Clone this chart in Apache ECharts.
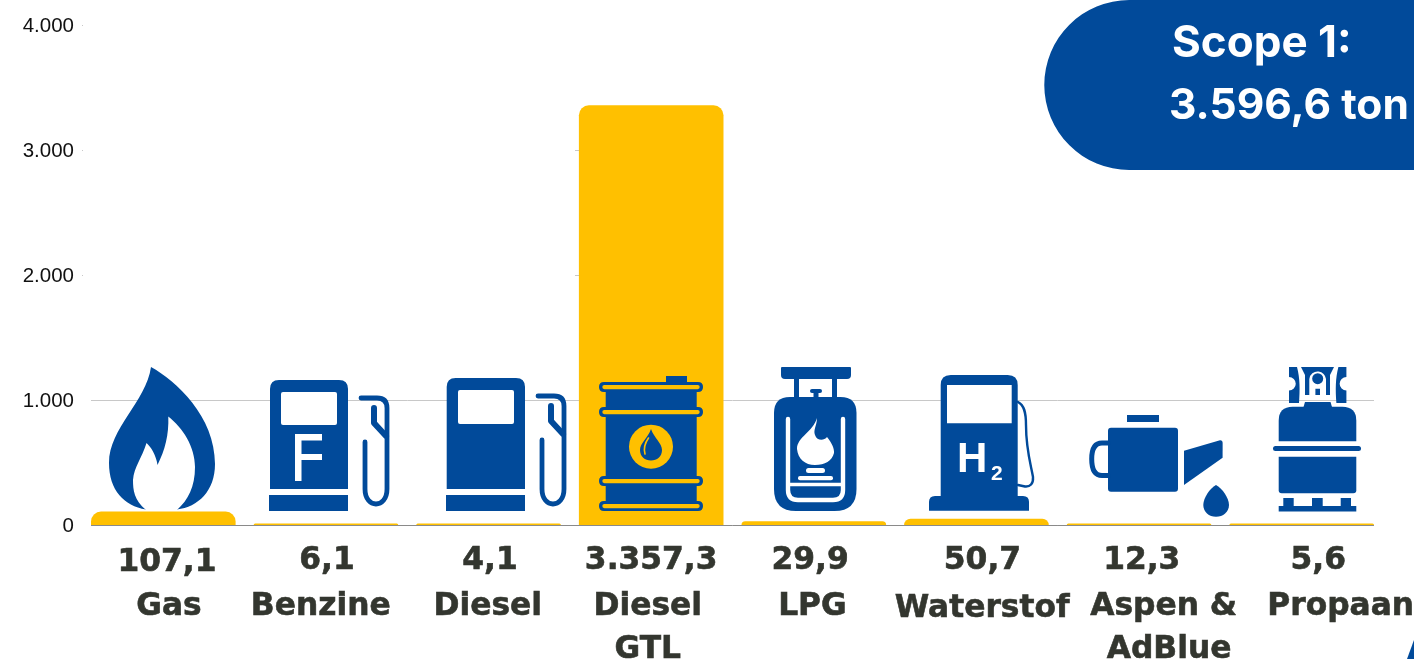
<!DOCTYPE html>
<html lang="nl">
  <head>
    <meta charset="UTF-8" />
    <title>Scope 1</title>
    <script src="https://cdn.jsdelivr.net/npm/echarts@6/dist/echarts.min.js"></script>
    <style>
      html, body { margin: 0; padding: 0; background: #fff; }
      #box { width: 1414px; height: 659px; }
    </style>
  </head>
  <body>
    <div id="box"></div>
    <script>
      // data
      var values = [107.1, 6.1, 4.1, 3357.3, 29.9, 50.7, 12.3, 5.6];
      var names = ["Gas", "Benzine", "Diesel", "Diesel", "LPG", "Waterstof", "Aspen &", "Propaan"];
      var names2 = ["", "", "", "GTL", "", "", "AdBlue", ""];
      var scopeLines = ["Scope 1:", "3.596,6 ton"];
      var yMax = 4000;
      var yStep = 1000;

      // the labels in the picture are not centred under their bars
      var valueShift = [3.7, 1, 1.5, 0, -3.7, 6, 2.7, 16.5];
      var nameShift = [5.7, -5.2, -0.8, -3.4, -1.4, 5.7, 24.6, 39];
      var name2Shift = [0, 0, 0, -3.4, 0, 0, 30, 0];

      var BLUE = "#014a9a";
      var YELLOW = "#ffc000";
      var TEXT = "#33362f";

      // dutch number format: 3.357,3
      function nl(v, decimals) {
        var s = v.toFixed(decimals).split(".");
        var whole = s[0].replace(/\B(?=(\d{3})+$)/g, ".");
        return s[1] ? whole + "," + s[1] : whole;
      }

      // rounded rect as path string, radii tl tr br bl
      function rr(x, y, w, h, a, b, c, d) {
        if (b === undefined) { b = c = d = a; }
        var r = x + w, t = y + h;
        return "M" + (x + a) + "," + y + " L" + (r - b) + "," + y + " Q" + r + "," + y + " " + r + "," + (y + b) +
          " L" + r + "," + (t - c) + " Q" + r + "," + t + " " + (r - c) + "," + t +
          " L" + (x + d) + "," + t + " Q" + x + "," + t + " " + x + "," + (t - d) +
          " L" + x + "," + (y + a) + " Q" + x + "," + y + " " + (x + a) + "," + y + " Z ";
      }

      // off canvas anchors so the path keeps page coordinates when echarts fits it
      var ANCHORS = "M-50,-50 L-50,-50 M1464,709 L1464,709 ";
      function shape(d, style) {
        return {
          type: "path",
          silent: true,
          shape: { pathData: ANCHORS + d, x: -50, y: -50, width: 1514, height: 759, layout: "cover" },
          style: style,
        };
      }
      function fill(d, color) {
        return shape(d, { fill: color || BLUE, stroke: null });
      }
      function line(d, color, w) {
        return shape(d, { fill: null, stroke: color || BLUE, lineWidth: w, lineCap: "round", lineJoin: "round" });
      }
      function label(text, x, y, font) {
        return {
          type: "text", silent: true, x: x, y: y,
          style: { text: text, fill: "#fff", font: font, align: "left", verticalAlign: "middle" },
        };
      }
      function hose(dx, dy) {
        var X = function (v) { return v + dx; };
        var Y = function (v) { return v + dy; };
        return [
          line("M" + X(361) + "," + Y(398) + " L" + X(377) + "," + Y(398) + " Q" + X(387) + "," + Y(398) + " " + X(387) + "," + Y(408) +
            " L" + X(387) + ",489 C" + X(387) + ",509 " + X(365) + ",509 " + X(365) + ",489 L" + X(365) + "," + Y(442), BLUE, 4.8),
          line("M" + X(374) + "," + Y(408) + " L" + X(374) + "," + Y(423) + " L" + X(386) + "," + Y(436), BLUE, 6),
        ];
      }

      // white masks: only the 1.000 line is visible in the picture
      var masks = [
        fill(rr(83, 0, 492, 360, 0), "#fff"),
        fill(rr(722, 0, 662, 360, 0), "#fff"),
        fill(rr(575, 0, 150, 100, 0), "#fff"),
        fill(rr(82, 360, 9, 160, 0), "#fff"),
        fill(rr(1374, 360, 10, 160, 0), "#fff"),
      ];
      var axisEnds = [
        fill(rr(80, 520, 11, 10, 0), "#fff"),
        fill(rr(1374, 520, 12, 10, 0), "#fff"),
      ];

      var flame = [
        fill("M151,367 C176,381 215,416 215,464 C215,491 198,507 177,509.5 L146,509.5 C124,506 109,490 109,463 C109,428 146,402 151,367 Z"),
        fill("M146,510 C134,500 133,490 133,480 C134,467 142,458 146.5,443 C151,447 156,455 157.5,465 C165,450 169,435 168.3,416.5 C183,428 195,447 195,467 C195,487 188,500 177,510 Z", "#fff"),
      ];

      var pumpF = [
        fill(rr(270, 380, 78, 109, 9, 9, 0, 0)),
        fill(rr(281, 392, 56, 33, 2), "#fff"),
        fill("M295,434 L322,434 L322,440.5 L301.5,440.5 L301.5,454 L322,454 L322,460 L301.5,460 L301.5,481 L295,481 Z", "#fff"),
        fill(rr(269, 495, 79, 16, 0)),
      ].concat(hose(0, 0));

      var pumpD = [
        fill(rr(446.7, 378, 78.3, 111, 9, 9, 0, 0)),
        fill(rr(458, 390, 56, 34, 2), "#fff"),
        fill(rr(446, 495, 79, 16, 0)),
      ].concat(hose(177, -2));

      function ring(y) {
        return [fill(rr(599, y, 104, 10, 5)), fill(rr(602.3, y + 3, 97.4, 4.2, 2.1), YELLOW)];
      }
      var barrel = [
        fill(rr(666, 376, 21, 8, 0)),
        fill(rr(605.7, 385, 91, 122, 0)),
        fill("M629,446.7 A22,22 0 1 1 673,446.7 A22,22 0 1 1 629,446.7 Z", YELLOW),
        fill("M651,429 C654,438 662,443 662,450 C662,456.5 657,460.5 651,460.5 C645,460.5 640,456.5 640,450 C640,443 648,438 651,429 Z"),
        line("M648.5,438 C645,443 643.5,449 645,454", YELLOW, 1.6),
      ].concat(ring(382), ring(407), ring(476), ring(501));

      var lpg = [
        fill(rr(781, 367, 70, 12, 1, 1, 4, 4)),
        fill(rr(794, 379, 5, 20, 0)),
        fill(rr(832, 379, 5, 20, 0)),
        fill(rr(810, 389, 12, 4, 2)),
        fill(rr(813.5, 392, 5, 7, 0)),
        fill(rr(774, 397, 82.5, 114, 16, 16, 22, 22)),
        line("M788,419 L788,490 Q788,500 798,500 L833,500 Q843,500 843,490 L843,419", "#fff", 4.4),
        line("M790,484.5 L841,484.5", "#fff", 3.6),
        fill("M817,418 C817,425 813,430 815,435 C817,441 824,441 827,437 C832,443 834.5,449 834,453 C832,461 825,465 815,465 C805,465 798,459 797,449 C797,437 813,432 817,418 Z", "#fff"),
        fill(rr(806, 468, 19, 5, 2.5), "#fff"),
        fill(rr(798, 476, 35, 4.2, 2), "#fff"),
      ];

      var pumpH = [
        fill(rr(940.7, 375, 77, 125, 10, 10, 0, 0)),
        fill(rr(947, 385, 64.7, 38.3, 0), "#fff"),
        fill(rr(929, 496, 100, 14.7, 6, 6, 0, 0)),
        line("M1018,402 C1024,405 1026,412 1026,425 C1026,450 1031,465 1033,477 C1033.5,484 1030,487 1025,486.5 L1018,485", BLUE, 2.4),
        label("H", 957, 460, "bold 42px 'Liberation Sans'"),
        label("2", 991, 474, "bold 21px 'Liberation Sans'"),
      ];

      var oilCan = [
        fill(rr(1127, 415, 32, 7, 0)),
        fill(rr(1108, 427.7, 70, 64, 3)),
        line("M1108,443 L1102,443 C1095,443 1091.7,449 1091.7,459 C1091.7,470 1095,475.5 1102,475.5 L1108,475.5", BLUE, 5),
        fill("M1184,450.7 L1220,440.2 Q1222.6,440 1222.6,443 L1222.6,457.7 L1184,485 Z"),
        fill("M1216,485 C1222,488 1229,498 1229,505 C1229,512 1223,516.8 1216,516.8 C1209,516.8 1203.3,512 1203.3,505 C1203.3,498 1210,488 1216,485 Z"),
      ];

      var propane = [
        // valve
        fill("M1289,367 L1297,367 C1300,378 1300,390 1299,403 L1289,403 L1289,390.5 A6.75,6.75 0 0 0 1289,377 Z"),
        fill("M1346.4,367 L1338.4,367 C1335.4,378 1335.4,390 1336.4,403 L1346.4,403 L1346.4,390.5 A6.75,6.75 0 0 1 1346.4,377 Z"),
        fill("M1301,367 L1334,367 L1330,375 L1330,395 L1305,395 L1305,375 Z"),
        fill("M1309.3,396 L1309.3,379 A8.4,8.4 0 0 1 1326,379 L1326,396 Z", "#fff"),
        fill("M1312.2,378.7 A5.5,5.5 0 1 1 1323.2,378.7 A5.5,5.5 0 1 1 1312.2,378.7 Z"),
        fill(rr(1315.4, 388.7, 4.6, 7, 0)),
        fill(rr(1302, 395, 32, 4, 0), "#fff"),
        // cylinder
        fill("M1305,402 L1330.5,402 L1332,407 L1303.5,407 Z"),
        fill(rr(1278.7, 406.7, 77.6, 34.5, 14, 14, 0, 0)),
        fill(rr(1273, 446, 88, 5, 2.5)),
        fill(rr(1278.7, 456.7, 77.6, 36.6, 0, 0, 3, 3)),
        fill(rr(1283.3, 498, 10.4, 9, 0)),
        fill(rr(1312, 498, 10.7, 9, 0)),
        fill(rr(1340.7, 498, 10.3, 9, 0)),
        fill(rr(1278.7, 506, 77.6, 5.4, 0)),
      ];

      var pill = [
        fill("M1130,0 L1465,0 L1465,170 L1130,170 A85,85 0 0 1 1130,0 Z"),
        fill("M1407,659 L1414,640 L1414,659 Z"),
        label(scopeLines[0], 1172, 44, "bold 44px Inter"),
        label(scopeLines[1], 1169, 106, "bold 42.5px Inter"),
      ];

      // a custom series without coordinate system for the artwork on the picture
      function art(children, z) {
        return {
          type: "custom",
          coordinateSystem: "none",
          silent: true,
          z: z,
          clip: false,
          data: [0],
          renderItem: function () {
            return { type: "group", children: children };
          },
        };
      }

      // transparent zero bars that only carry a label row under the axis
      function labelRow(texts, shift, dy) {
        return {
          type: "bar",
          barGap: "-100%",
          barWidth: 144.6,
          itemStyle: { color: "rgba(0,0,0,0)" },
          silent: true,
          data: texts.map(function (t, i) {
            return {
              value: 0,
              label: {
                show: t !== "",
                formatter: t,
                position: ["50%", "100%"],
                align: "center",
                verticalAlign: "middle",
                offset: [shift[i], Array.isArray(dy) ? dy[i] : dy],
                color: TEXT,
                fontFamily: "DejaVu Sans",
                fontWeight: "bold",
                fontSize: 31.3,
                textBorderColor: TEXT,
                textBorderWidth: 0.6,
              },
            };
          }),
        };
      }

      var my_box = echarts.init(document.getElementById("box"));
      my_box.setOption({
        animation: false,
        grid: { left: 82, right: 31, top: 25, bottom: 134 },
        xAxis: {
          type: "category",
          data: names,
          z: 3,
          axisTick: { show: false },
          axisLabel: { show: false },
          axisLine: { lineStyle: { color: "#8a8a8a", width: 1 } },
        },
        yAxis: {
          type: "value",
          min: 0,
          max: yMax,
          interval: yStep,
          axisLine: { show: false },
          axisTick: { show: false },
          axisLabel: {
            margin: 8,
            color: "#111",
            fontFamily: "Liberation Sans",
            fontSize: 20.5,
            verticalAlign: "top",
            lineHeight: 3,
            formatter: function (v) { return nl(v, 0); },
          },
          splitLine: { lineStyle: { color: "#c8c8c8", width: 1 } },
        },
        series: [
          {
            type: "bar",
            barWidth: 144.6,
            barGap: "-100%",
            barMinHeight: 1.5,
            itemStyle: { color: YELLOW, borderRadius: [10, 10, 0, 0] },
            data: values,
            label: { show: false },
          },
          labelRow(values.map(function (v) { return nl(v, 1); }), valueShift, [38, 36, 36, 36, 36, 36, 36, 36]),
          labelRow(names, nameShift, [82, 82, 82, 82, 82, 83.5, 82, 82]),
          labelRow(names2, name2Shift, 124.5),
          art(masks, 1),
          art(axisEnds, 5),
          art([].concat(flame, pumpF, pumpD, barrel, lpg, pumpH, oilCan, propane, pill), 10),
        ],
      });
    </script>
  </body>
</html>
